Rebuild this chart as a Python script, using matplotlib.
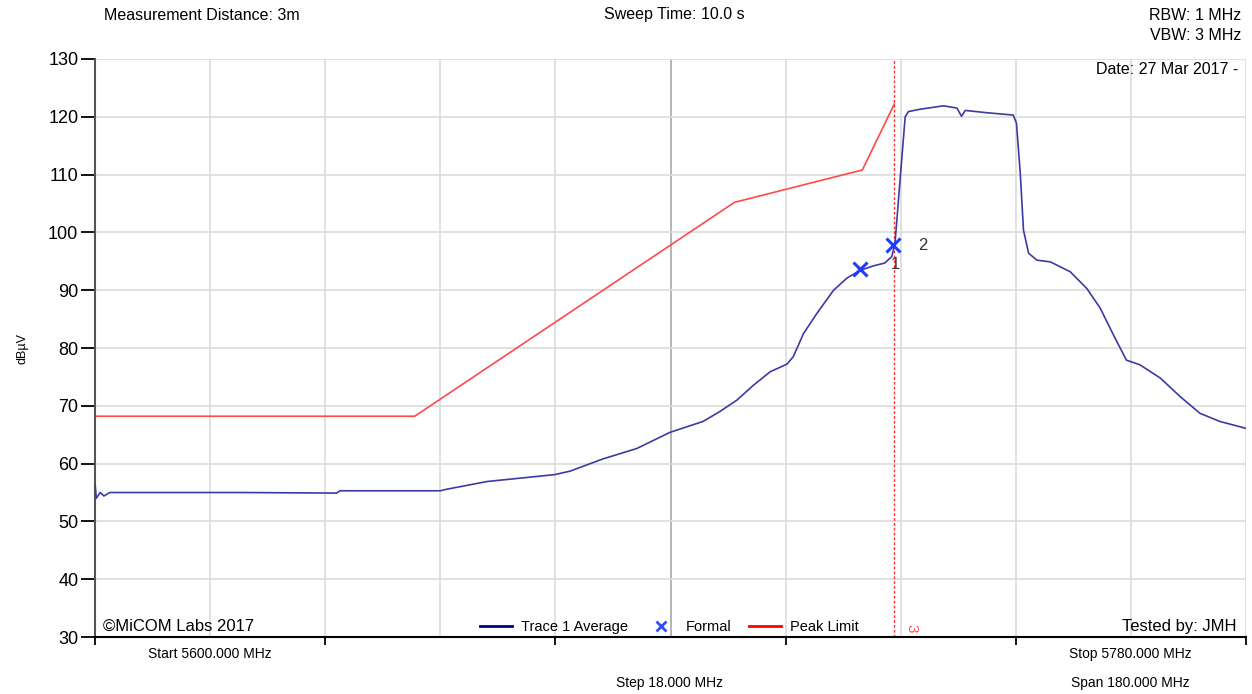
import numpy as np
import matplotlib.pyplot as plt

plt.rcParams["font.family"] = ["Liberation Sans", "DejaVu Sans"]

# 측정 트레이스 (MHz, dBµV) - 그림에서 읽은 값
trace_freq = [5600.0, 5600.2, 5600.8, 5601.4, 5602.3, 5622.7, 5637.8, 5638.3, 5654.0, 5654.7,
              5661.3, 5667.5, 5671.9, 5674.3, 5679.4, 5684.7, 5689.9, 5695.1, 5697.7, 5700.4,
              5702.9, 5705.6, 5708.2, 5709.2, 5710.8, 5712.9, 5715.5, 5717.6, 5719.6, 5721.7,
              5723.5, 5724.6, 5725.1, 5725.4, 5725.9, 5726.7, 5727.2, 5729.0, 5732.7, 5734.8,
              5735.5, 5736.1, 5739.5, 5743.6, 5744.1, 5744.7, 5745.2, 5746.0, 5747.3, 5749.4,
              5752.5, 5755.1, 5757.2, 5759.3, 5761.3, 5763.4, 5766.6, 5769.7, 5772.8, 5775.9,
              5780.0]
trace_level = [56.6, 54.0, 55.0, 54.4, 55.0, 55.0, 54.9, 55.3, 55.3, 55.5,
               56.9, 57.6, 58.1, 58.7, 60.8, 62.6, 65.4, 67.3, 69.0, 71.0,
               73.5, 75.9, 77.2, 78.5, 82.5, 86.0, 90.0, 92.1, 93.4, 94.2,
               94.7, 95.8, 98.1, 102.1, 109.1, 120.0, 120.9, 121.3, 121.9, 121.5,
               120.1, 121.1, 120.7, 120.3, 118.9, 110.2, 100.4, 96.4, 95.2, 94.9,
               93.2, 90.3, 86.9, 82.2, 77.9, 77.1, 74.8, 71.6, 68.7, 67.3,
               66.1]

# 피크 리미트 마스크
limit_freq = [5600.0, 5650.0, 5700.0, 5720.0, 5725.0]
limit_level = [68.2, 68.2, 105.2, 110.8, 122.2]

# 마커
marker_freq = [5719.6, 5724.8]
marker_level = [93.6, 97.8]
marker_names = ["1", "2"]
band_edge = 5725.0

fig = plt.figure(figsize=(12.52, 6.94), dpi=100)
ax = fig.add_axes([0.0759, 0.0821, 0.9193, 0.8329])

ax.set_xlim(5600, 5780)
ax.set_ylim(30, 130)

# 그리드
for f in np.arange(5618, 5780, 18):
    c = '#a8a8a8' if f == 5690 else '#dcdcdc'
    ax.axvline(f, color=c, lw=1.2, zorder=0)
for lv in range(40, 131, 10):
    ax.axhline(lv, color='#dcdcdc', lw=1.2, zorder=0)
ax.axvline(5780, color='#dcdcdc', lw=1.2, zorder=0)

ax.plot(limit_freq, limit_level, color='#ff4a4a', lw=1.2, zorder=2)
ax.plot(trace_freq, trace_level, color='#3b3ba3', lw=1.2, zorder=3)
ax.axvline(band_edge, color='#ff3030', lw=1.0, ls=(0, (2, 1.5)), zorder=2)
ax.plot(marker_freq, marker_level, ls='none', marker='x', color='#1f3cff',
        ms=10, mew=2.2, zorder=4)
ax.text(marker_freq[1] - 0.3, marker_level[1] - 2.0, marker_names[0], fontsize=12,
        va='top', ha='left', color='#333333')
ax.text(marker_freq[1] + 4.0, marker_level[1], marker_names[1], fontsize=12,
        va='center', ha='left', color='#333333')
ax.text(band_edge + 1.6, 30.8, '3', fontsize=11, color='#ff5050', rotation=270,
        ha='left', va='bottom')

# 축 스타일
ax.spines['top'].set_visible(False)
ax.spines['right'].set_visible(False)
ax.spines['left'].set_color('#555555')
ax.spines['left'].set_linewidth(1.5)
ax.spines['bottom'].set_color('black')
ax.spines['bottom'].set_linewidth(1.5)
ax.set_yticks(range(30, 131, 10))
ax.tick_params(axis='y', length=10, width=1.3, labelsize=13, pad=2, color='black')
ax.set_xticks(np.arange(5600, 5781, 36))
ax.set_xticklabels([])
ax.tick_params(axis='x', length=6, width=1.3, color='black')
ax.set_ylabel('dBµV', fontsize=9, labelpad=14)

# 텍스트
fig.text(104 / 1252, 1 - 15 / 694, 'Measurement Distance: 3m', fontsize=11.5, va='center')
fig.text(674 / 1252, 1 - 15 / 694, 'Sweep Time: 10.0 s', fontsize=11.5, va='center', ha='center')
fig.text(1241 / 1252, 1 - 15 / 694, 'RBW: 1 MHz', fontsize=11.5, va='center', ha='right')
fig.text(1241 / 1252, 1 - 36 / 694, 'VBW: 3 MHz', fontsize=11.5, va='center', ha='right')
fig.text(1238 / 1252, 1 - 70 / 694, 'Date: 27 Mar 2017 -', fontsize=11.5, va='center', ha='right')
fig.text(103 / 1252, 1 - 626 / 694, '©MiCOM Labs 2017', fontsize=12, va='center')
fig.text(1237 / 1252, 1 - 626 / 694, 'Tested by: JMH', fontsize=12, va='center', ha='right')
fig.text(210 / 1252, 1 - 654 / 694, 'Start 5600.000 MHz', fontsize=10, va='center', ha='center')
fig.text(1130 / 1252, 1 - 654 / 694, 'Stop 5780.000 MHz', fontsize=10, va='center', ha='center')
fig.text(670 / 1252, 1 - 683 / 694, 'Step 18.000 MHz', fontsize=10, va='center', ha='center')
fig.text(1130 / 1252, 1 - 683 / 694, 'Span 180.000 MHz', fontsize=10, va='center', ha='center')

# 범례
h1, = ax.plot([], [], color='#000080', lw=2)
h2, = ax.plot([], [], ls='none', marker='x', color='#3050ff', ms=7, mew=2)
h3, = ax.plot([], [], color='#ff0000', lw=2)
ax.legend([h1, h2, h3], ['Trace 1 Average', 'Formal', 'Peak Limit'], ncol=3,
          loc='lower center', bbox_to_anchor=(0.499, -0.015), frameon=False,
          fontsize=10.5, handlelength=2.2, columnspacing=1.2, handletextpad=0.6,
          borderpad=0.3)

fig.savefig('out.png', dpi=100)
